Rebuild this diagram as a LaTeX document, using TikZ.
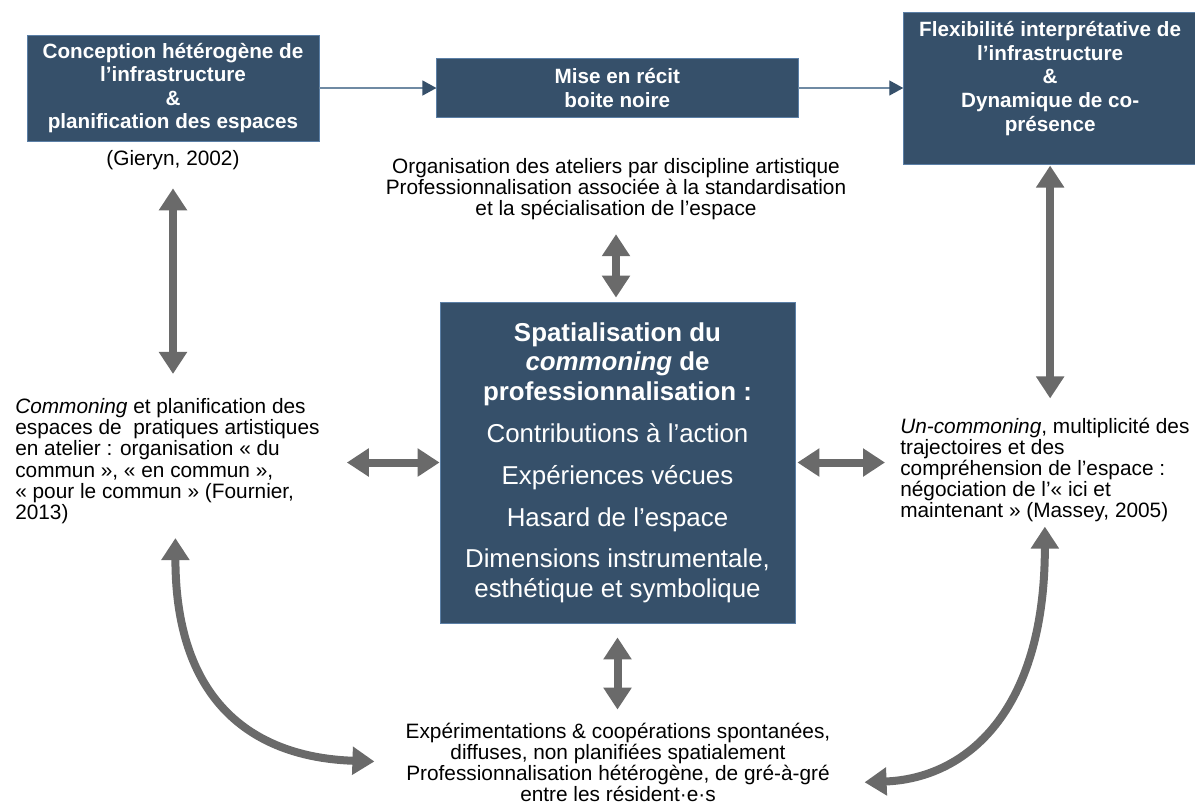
\documentclass[tikz,border=0pt]{standalone}
\usepackage{fontspec}
\setmainfont{Liberation Sans}
\usetikzlibrary{arrows.meta,positioning}
\definecolor{boxblue}{HTML}{36506A}
\definecolor{boxedge}{HTML}{5B7FA6}
\definecolor{linkblue}{HTML}{6F8AA3}
\definecolor{dblgray}{HTML}{6A6A6A}
\begin{document}
\begin{tikzpicture}[x=0.025cm,y=-0.025cm,
    box/.style={fill=boxblue,draw=boxedge,line width=0.5pt,text=white,align=center,inner sep=0pt,
      font=\fontsize{14.7}{16.8}\selectfont\bfseries},
    txt/.style={inner sep=0pt,font=\fontsize{14.8}{15.1}\selectfont},
    link/.style={draw=linkblue,line width=1pt,-{Triangle[length=0.35cm,width=0.375cm,color=boxblue]}},
    dbl/.style={dblgray,line width=0.2cm,
      {Triangle[length=0.55cm,width=0.675cm]}-{Triangle[length=0.55cm,width=0.675cm]}}]
  \useasboundingbox (0,0) rectangle (1195,805);

  \node [box,minimum width=7.3cm,minimum height=2.65cm] (1) at (173,88)
    {Conception hétérogène de\\l’infrastructure\\\&\\planification des espaces};
  \node [box,minimum width=9.025cm,minimum height=1.475cm,right=2.925cm of 1] (2)
    {Mise en récit\\boite noire};
  \node [box,minimum width=7.325cm,minimum height=3.8cm,right=2.625cm of 2] (3)
    {Flexibilité interprétative de\\l’infrastructure\\\&\\Dynamique de co-\\présence\\\mbox{}};
  \node [txt,below=0.225cm of 1] (g) {(Gieryn, 2002)};
  \node [txt,align=center] (4) at (616,189)
    {Organisation des ateliers par discipline artistique\\Professionnalisation associée à la standardisation\\et la spécialisation de l’espace};

  \node [box,minimum width=8.875cm,minimum height=8.025cm,font=\fontsize{18.4}{21}\selectfont] (5) at (617.5,462.5)
    {\textbf{Spatialisation du}\\\textbf{\textit{commoning} de}\\\textbf{professionnalisation :}\\[9pt]
     Contributions à l’action\\[9pt]Expériences vécues\\[9pt]Hasard de l’espace\\[8pt]
     Dimensions instrumentale,\\esthétique et symbolique};

  \node [txt,align=left,anchor=west] (6) at (15,461)
    {\textit{Commoning} et planification des\\espaces de~ pratiques artistiques\\en atelier : organisation « du\\commun », « en commun »,\\« pour le commun » (Fournier,\\2013)};
  \node [txt,align=left,anchor=west] (7) at (900,470)
    {\textit{Un-commoning}, multiplicité des\\trajectoires et des\\compréhension de l’espace :\\négociation de l’« ici et\\maintenant » (Massey, 2005)};
  \node [txt,align=center] (8) at (618,762.5)
    {Expérimentations \& coopérations spontanées,\\diffuses, non planifiées spatialement\\Professionnalisation hétérogène, de gré-à-gré\\entre les résident·e·s};

  \draw[link] (1) -- (2);
  \draw[link] (2) -- (3);

  \draw[dbl,shorten <=0.35cm,shorten >=0.1cm] (4.south) -- (4.south |- 5.north);
  \draw[dbl,shorten <=0.35cm,shorten >=0.325cm] (5.south) -- (5.south |- 8.north);
  \draw[dbl,shorten <=0.45cm,shorten >=0.6cm] (g.south) -- (g.south |- 6.north);
  \draw[dbl,shorten <=0.03cm,shorten >=0.475cm] (3.south) -- (3.south |- 7.north);
  \draw[dbl,shorten <=0.675cm] (6.east |- 5.west) -- (5.west);
  \draw[dbl,shorten <=0.05cm,shorten >=0.375cm] (5.east) -- (5.east -| 7.west);
  \draw[dbl,shorten <=0.35cm,shorten >=0.775cm] ([xshift=0.2cm]6.south) .. controls +(0,180) and +(-150,-5) .. (8.west);
  \draw[dbl,shorten <=0.1cm,shorten >=0.85cm] (7.south) .. controls +(0,190) and +(135,-5) .. ([yshift=-0.525cm]8.east);
\end{tikzpicture}
\end{document}
